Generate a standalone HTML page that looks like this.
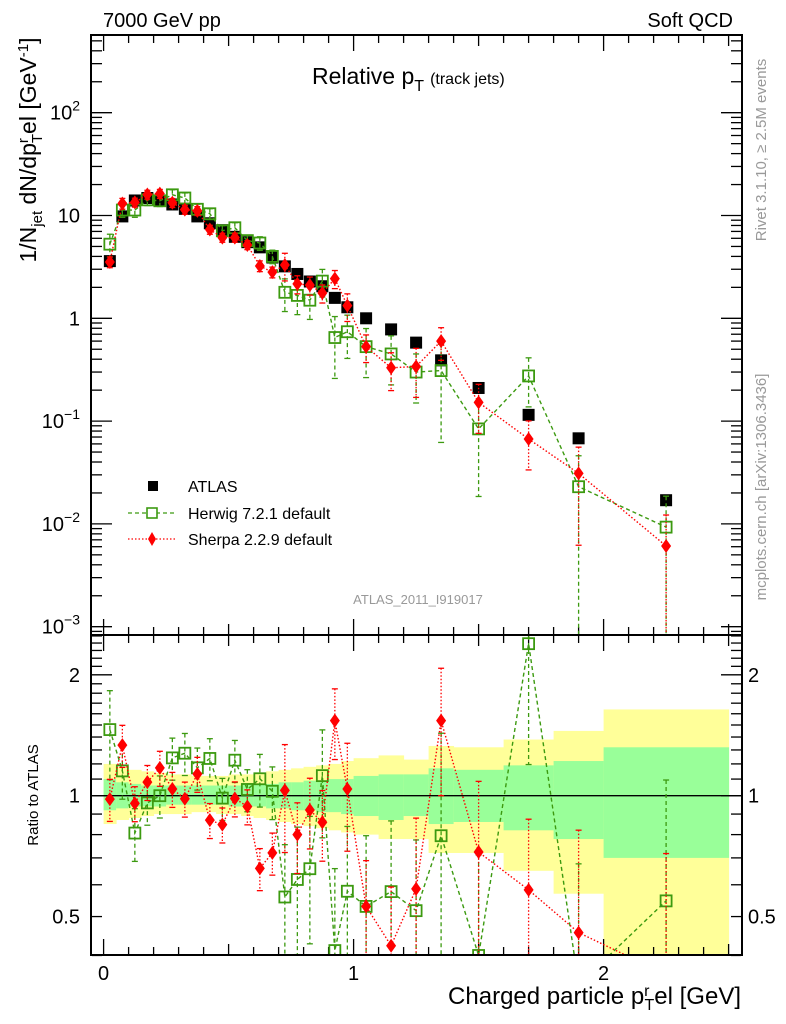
<!DOCTYPE html>
<html><head><meta charset="utf-8"><style>
html,body{margin:0;padding:0;background:#fff;overflow:hidden;width:786px;height:1024px;}
svg{display:block;font-family:"Liberation Sans",sans-serif;}
</style></head><body>
<svg id="chart" width="786" height="1024" viewBox="0 0 786 1024" xmlns="http://www.w3.org/2000/svg" overflow="hidden">
<defs>
<clipPath id="cMain"><rect x="91" y="35" width="651" height="600"/></clipPath>
<clipPath id="cRatio"><rect x="91" y="635" width="651" height="320"/></clipPath>
</defs>
<g id="bands" clip-path="url(#cRatio)"></g>
<g id="ticks"></g>
<g id="mainMarks" clip-path="url(#cMain)"></g>
<g id="ratioMarks" clip-path="url(#cRatio)"></g>
<rect x="91" y="35" width="651" height="600" fill="none" stroke="#000" stroke-width="2"/>
<rect x="91" y="635" width="651" height="320" fill="none" stroke="#000" stroke-width="2"/>
<text x="103" y="27" font-size="20">7000 GeV pp</text>
<text x="733" y="27" font-size="20" text-anchor="end">Soft QCD</text>
<text x="312" y="84" font-size="23">Relative p<tspan font-size="16" dy="7">T</tspan><tspan font-size="16" dy="-7" dx="6">(track jets)</tspan></text>
<text x="418" y="604" font-size="13" fill="#999" text-anchor="middle">ATLAS_2011_I919017</text>
<text transform="translate(766,150) rotate(-90)" font-size="15" fill="#999" text-anchor="middle">Rivet 3.1.10, ≥ 2.5M events</text>
<text transform="translate(766,487) rotate(-90)" font-size="15" fill="#999" text-anchor="middle">mcplots.cern.ch [arXiv:1306.3436]</text>
<text transform="translate(36,150) rotate(-90)" font-size="23" text-anchor="middle">1/N<tspan font-size="15" dy="6">jet</tspan><tspan dy="-6"> dN/dp</tspan><tspan font-size="15" dy="-8">r</tspan><tspan font-size="15" dy="14" dx="-5">T</tspan><tspan dy="-6">el [GeV</tspan><tspan font-size="15" dy="-8">-1</tspan><tspan dy="8">]</tspan></text>
<text transform="translate(38,795) rotate(-90)" font-size="15" text-anchor="middle">Ratio to ATLAS</text>
<text x="741" y="1004" font-size="24" text-anchor="end">Charged particle p<tspan font-size="16" dy="-8">r</tspan><tspan font-size="16" dy="14" dx="-5">T</tspan><tspan dy="-6">el [GeV]</tspan></text>
<g>
<rect x="148" y="481" width="10" height="10" fill="#000"/>
<text x="188" y="492" font-size="16">ATLAS</text>
<line x1="128" y1="513" x2="176" y2="513" stroke="#3c9a10" stroke-width="1.3" stroke-dasharray="4,3"/>
<rect x="147" y="508" width="10" height="10" fill="#fff" stroke="#3c9a10" stroke-width="1.6"/>
<text x="188" y="519" font-size="16">Herwig 7.2.1 default</text>
<line x1="128" y1="539" x2="176" y2="539" stroke="#f00" stroke-width="1.3" stroke-dasharray="1.5,2"/>
<path d="M152,532 L156,539 L152,546 L148,539Z" fill="#f00"/>
<text x="188" y="545" font-size="16">Sherpa 2.2.9 default</text>
</g>
</svg>
<script>
const binEdges=[0,0.05,0.1,0.15,0.2,0.25,0.3,0.35,0.4,0.45,0.5,0.55,0.6,0.65,0.7,0.75,0.8,0.85,0.9,0.95,1.0,1.1,1.2,1.3,1.4,1.6,1.8,2.0,2.5];
const atlasValues=[3.6,9.8,14,14.8,13.9,12.8,11.6,9.8,8.4,7.2,6.2,5.5,4.9,3.9,3.2,2.7,2.28,2.05,1.58,1.28,1.0,0.78,0.58,0.39,0.21,0.115,0.068,0.017];
const herwigValues=[5.26,11.3,11.3,14.2,13.9,15.9,14.8,11.5,10.4,7.1,7.6,5.7,5.4,4.0,1.79,1.67,1.5,2.3,0.65,0.74,0.53,0.45,0.30,0.31,0.084,0.275,0.023,0.0093];
const sherpaValues=[3.53,13.1,13.4,16.0,16.3,13.3,11.4,11.1,7.3,6.1,6.1,5.17,3.23,2.81,3.3,2.16,2.1,1.76,2.43,1.33,0.53,0.33,0.34,0.60,0.152,0.067,0.031,0.0061];
const herwigErr=[0.25,0.15,0.15,0.12,0.12,0.12,0.12,0.12,0.12,0.12,0.12,0.12,0.15,0.15,0.35,0.35,0.35,0.3,0.6,0.45,0.5,0.5,0.5,0.8,0.78,0.5,1.0,1.0];
const sherpaErr=[0.12,0.12,0.1,0.1,0.1,0.1,0.1,0.1,0.1,0.1,0.1,0.1,0.12,0.12,0.3,0.2,0.2,0.2,0.2,0.3,0.3,0.4,0.5,0.35,0.5,0.5,0.8,1.0];
const yellowHi=[1.2,1.18,1.16,1.15,1.14,1.13,1.13,1.12,1.12,1.12,1.13,1.13,1.14,1.15,1.16,1.17,1.18,1.19,1.2,1.22,1.24,1.26,1.23,1.33,1.32,1.38,1.45,1.64];
const yellowLo=[0.85,0.87,0.88,0.89,0.9,0.9,0.9,0.91,0.91,0.9,0.9,0.89,0.88,0.87,0.86,0.85,0.84,0.83,0.82,0.81,0.8,0.78,0.78,0.72,0.72,0.65,0.57,0.3];
const greenHi=[1.1,1.08,1.07,1.06,1.06,1.06,1.06,1.06,1.06,1.06,1.06,1.07,1.07,1.07,1.08,1.08,1.09,1.09,1.1,1.1,1.12,1.13,1.13,1.17,1.16,1.19,1.22,1.32];
const greenLo=[0.92,0.93,0.94,0.94,0.94,0.95,0.95,0.95,0.95,0.95,0.94,0.94,0.94,0.93,0.93,0.92,0.92,0.91,0.91,0.9,0.89,0.87,0.89,0.85,0.86,0.82,0.78,0.70];
const xTickLabels=["0","1","2"];
const yMainTickExps=[-3,-2,-1,0,1,2];
const ratioTickLabels=["0.5","1","2"];

const NS="http://www.w3.org/2000/svg";
const X=v=>103.6+250*v;
const YM=v=>318.3-102.8*Math.log10(v);
const YR=v=>795.7-401.5*Math.log10(v);
function mk(tag,attrs,parent){const e=document.createElementNS(NS,tag);for(const k in attrs)e.setAttribute(k,attrs[k]);parent.appendChild(e);return e;}
const G={bands:document.getElementById('bands'),ticks:document.getElementById('ticks'),main:document.getElementById('mainMarks'),ratio:document.getElementById('ratioMarks')};
const svg=document.getElementById('chart');
const centers=binEdges.slice(0,-1).map((e,i)=>(e+binEdges[i+1])/2);
const GREEN="#3c9a10",RED="#f00";

for(let i=0;i<centers.length;i++){
  const x0=X(binEdges[i]),x1=X(binEdges[i+1]);
  const y=mk('rect',{x:x0,y:YR(yellowHi[i]),width:x1-x0+0.5,height:YR(yellowLo[i])-YR(yellowHi[i]),fill:'#ffff99'},G.bands);
  
  
  const g=mk('rect',{x:x0,y:YR(greenHi[i]),width:x1-x0+0.5,height:YR(greenLo[i])-YR(greenHi[i]),fill:'#99ff99'},G.bands);
  
  
}
const one=mk('line',{x1:91,x2:742,y1:YR(1),y2:YR(1),stroke:'#000','stroke-width':1.3},G.bands);



function tickLine(x1,y1,x2,y2){mk('line',{x1,y1,x2,y2,stroke:'#000','stroke-width':1.3},G.ticks);}
for(let k=0;k<=25;k++){
  const v=k/10,x=X(v);
  const len=(k%10===0)?16:(k%5===0?11:8);
  [[35,1],[635,-1],[635,1],[955,-1]].forEach(([y,d])=>tickLine(x,y,x,y+d*len));
}
xTickLabels.forEach(t=>{
  const tx=mk('text',{x:X(+t),y:980,'font-size':20,'text-anchor':'middle'},svg);tx.textContent=t;
  
  
});
for(let e=-4;e<=2;e++){
  for(let m=1;m<10;m++){
    const y=YM(m*Math.pow(10,e));if(y<36||y>634)continue;
    const len=m===1?20:10;
    tickLine(92,y,92+len,y);tickLine(741,y,741-len,y);
  }
}
yMainTickExps.forEach(e=>{
  const y=YM(Math.pow(10,e))+7;
  const t=mk('text',{x:80,y:y,'font-size':20,'text-anchor':'end'},svg);
  
  
  if(e===0)t.textContent='1';
  else if(e===1)t.textContent='10';
  else{t.textContent='10';const s=mk('tspan',{'font-size':14,dy:-9},t);s.textContent=String(e).replace('-','−');}
});
[0.4,0.5,0.6,0.7,0.8,0.9,1,2].forEach(v=>{
  const y=YR(v);const len=(v===1||v===2)?20:10;
  tickLine(92,y,92+len,y);tickLine(741,y,741-len,y);
});
[1.1,1.2,1.3,1.4,1.5,1.6,1.7,1.8,1.9,2.1,2.2,2.3,2.4,2.5].forEach(v=>{const y=YR(v);tickLine(92,y,102,y);tickLine(741,y,731,y);});
ratioTickLabels.forEach(t=>{
  const y=YR(+t)+7;
  const a=mk('text',{x:80,y:y,'font-size':20,'text-anchor':'end'},svg);a.textContent=t;
  
  
  const b=mk('text',{x:748,y:y,'font-size':20},svg);b.textContent=t;
  
  
});

function series(parent,vals,errs,Y,color,dash,kind,name,yMax){
  const pts=centers.map((c,i)=>X(c)+','+Math.min(Y(vals[i]),yMax+40)).join(' ');
  const pl=mk('polyline',{points:pts,fill:'none',stroke:color,'stroke-width':1.4,'stroke-dasharray':dash},parent);
  
  
  centers.forEach((c,i)=>{
    const x=X(c),v=vals[i],e=errs[i]*v;
    const lo=v-e>0?Math.min(Y(v-e),yMax+5):yMax+5,hi=Y(v+e);
    mk('line',{x1:x,x2:x,y1:hi,y2:lo,stroke:color,'stroke-width':1.3,'stroke-dasharray':dash},parent);
    mk('line',{x1:x-3,x2:x+3,y1:hi,y2:hi,stroke:color,'stroke-width':1.3},parent);
    if(lo<yMax)mk('line',{x1:x-3,x2:x+3,y1:lo,y2:lo,stroke:color,'stroke-width':1.3},parent);
  });
  centers.forEach((c,i)=>{
    const x=X(c),y=Y(vals[i]);if(y>yMax+20)return;let m;
    if(kind==='sq'){m=mk('rect',{x:x-5.5,y:y-5.5,width:11,height:11,fill:'#fff','fill-opacity':0,stroke:color,'stroke-width':1.8},parent);}
    else{m=mk('path',{d:`M${x},${y-7}L${x+5},${y}L${x},${y+7}L${x-5},${y}Z`,fill:color},parent);}
    
    
  });
}
centers.forEach((c,i)=>{
  const r=mk('rect',{x:X(c)-6,y:YM(atlasValues[i])-6,width:12,height:12,fill:'#000'},G.main);
  
  
});
series(G.main,herwigValues,herwigErr,YM,GREEN,'4,3','sq','herwig',635);
series(G.main,sherpaValues,sherpaErr,YM,RED,'1.5,2','dia','sherpa',635);
const herwigRatio=herwigValues.map((v,i)=>v/atlasValues[i]);
const sherpaRatio=sherpaValues.map((v,i)=>v/atlasValues[i]);
series(G.ratio,herwigRatio,herwigErr,YR,GREEN,'4,3','sq','herwig-ratio',955);
series(G.ratio,sherpaRatio,sherpaErr,YR,RED,'1.5,2','dia','sherpa-ratio',955);
</script>
</body></html>
